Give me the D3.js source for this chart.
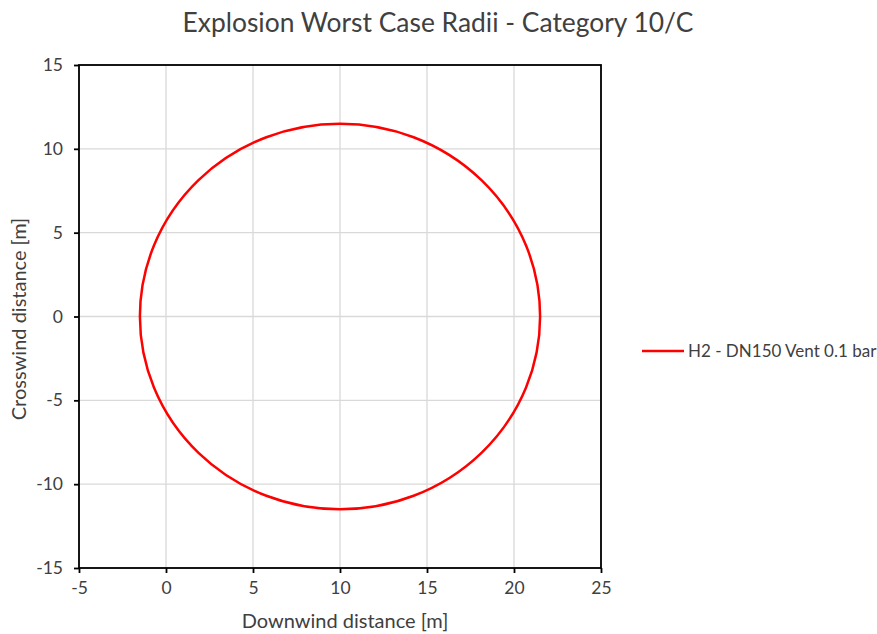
<!DOCTYPE html>
<html><head><meta charset="utf-8">
<script src="https://cdn.jsdelivr.net/npm/d3@7"></script>
<style>body{margin:0;background:#fff}text{font-family:Lato,"Open Sans",sans-serif;fill:#404040}</style>
</head><body><svg id="c" width="877" height="634"></svg>
<script>
const xTicks = [-5, 0, 5, 10, 15, 20, 25];
const yTicks = [-15, -10, -5, 0, 5, 10, 15];
const seriesName = "H2 - DN150 Vent 0.1 bar";
// extent of the worst-case radius contour (downwind min/max, crosswind min/max)
const downwindExtent = [-1.5, 21.5];
const crosswindExtent = [-11.5, 11.5];

const svg = d3.select("#c");
const L = 79, R = 601, T = 65, B = 568;
const x = d3.scaleLinear().domain([-5, 25]).range([L, R]);
const y = d3.scaleLinear().domain([-15, 15]).range([B, T]);

// grid
svg.append("g").selectAll("line").data(xTicks).join("line")
  .attr("x1", d => x(d)).attr("x2", d => x(d)).attr("y1", T).attr("y2", B)
  .attr("stroke", "#d9d9d9").attr("stroke-width", 1.3);
svg.append("g").selectAll("line").data(yTicks).join("line")
  .attr("x1", L).attr("x2", R).attr("y1", d => y(d)).attr("y2", d => y(d))
  .attr("stroke", "#d9d9d9").attr("stroke-width", 1.3);

// series
svg.append("ellipse")
  .attr("cx", x((downwindExtent[0] + downwindExtent[1]) / 2))
  .attr("cy", y((crosswindExtent[0] + crosswindExtent[1]) / 2))
  .attr("rx", (x(downwindExtent[1]) - x(downwindExtent[0])) / 2)
  .attr("ry", (y(crosswindExtent[0]) - y(crosswindExtent[1])) / 2)
  .attr("fill", "none").attr("stroke", "#ff0000").attr("stroke-width", 2.5);

// frame
svg.append("rect").attr("x", L).attr("y", T).attr("width", R - L).attr("height", B - T)
  .attr("fill", "none").attr("stroke", "#000").attr("stroke-width", 1.8);

// axes
const fmt = d => String(d);
const xa = svg.append("g").attr("transform", `translate(0,${B})`)
  .call(d3.axisBottom(x).tickValues(xTicks).tickFormat(fmt).tickSize(5).tickSizeOuter(0).tickPadding(9));
const ya = svg.append("g").attr("transform", `translate(${L},0)`)
  .call(d3.axisLeft(y).tickValues(yTicks).tickFormat(fmt).tickSize(5).tickSizeOuter(0).tickPadding(11));
[xa, ya].forEach(a => {
  a.select(".domain").remove();
  a.selectAll(".tick line").attr("stroke", "#000").attr("stroke-width", 1.8);
  a.selectAll(".tick text").attr("font-size", 17.5).attr("font-family", "Lato").attr("fill", "#404040");
});

// title
svg.append("text").attr("x", 438).attr("y", 32).attr("text-anchor", "middle")
  .attr("font-size", 26.4).text("Explosion Worst Case Radii - Category 10/C");
svg.append("text").attr("x", 345).attr("y", 628).attr("text-anchor", "middle")
  .attr("font-size", 20).text("Downwind distance [m]");
svg.append("text").attr("transform", "translate(26,319) rotate(-90)").attr("text-anchor", "middle")
  .attr("font-size", 20).text("Crosswind distance [m]");

// legend
svg.append("line").attr("x1", 642).attr("x2", 684).attr("y1", 351).attr("y2", 351)
  .attr("stroke", "#ff0000").attr("stroke-width", 2.5);
svg.append("text").attr("x", 688).attr("y", 357).attr("font-size", 17).text(seriesName);
</script></body></html>
